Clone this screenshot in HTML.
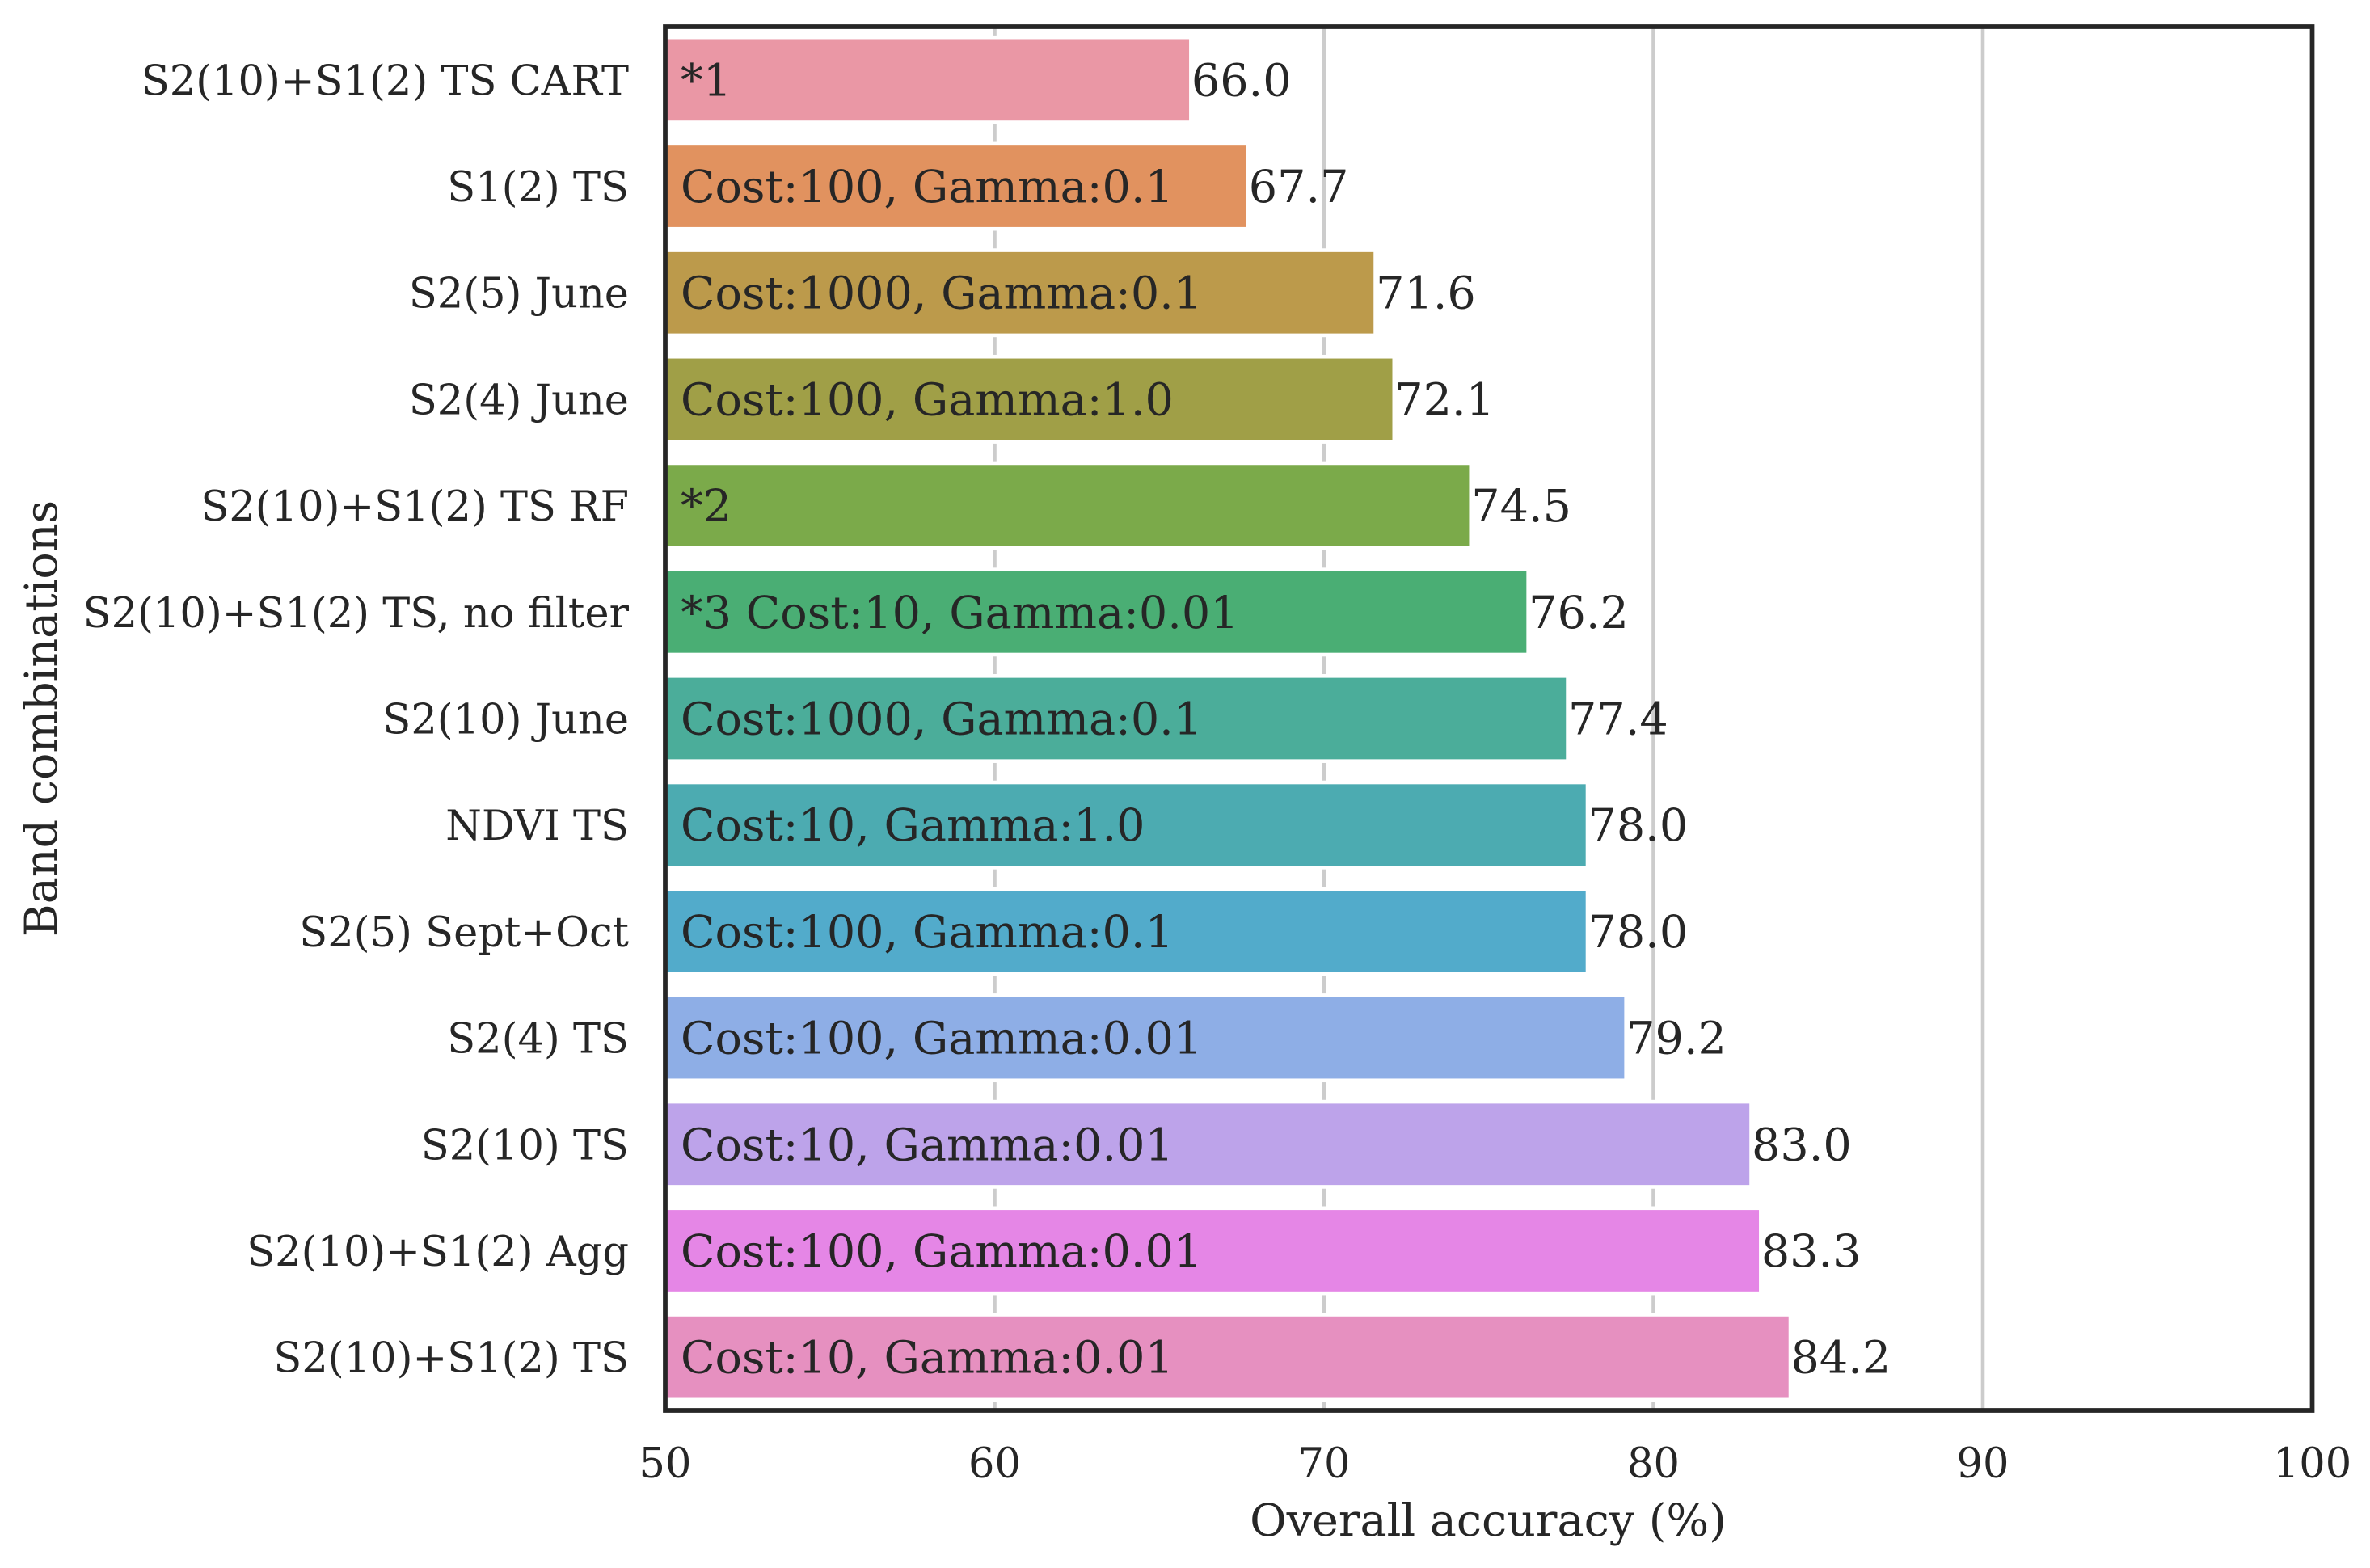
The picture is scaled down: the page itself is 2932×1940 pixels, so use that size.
<!DOCTYPE html>
<html lang="en">
<head>
<meta charset="utf-8">
<title>Overall accuracy by band combination</title>
<style>
html,body{margin:0;padding:0;background:#fff;}
svg{display:block;}
text{font-family:"DejaVu Serif","Liberation Serif",serif;fill:#262626;}
</style>
</head>
<body>
<svg id="chart" xmlns="http://www.w3.org/2000/svg" width="2932" height="1940" viewBox="0 0 2932 1940"></svg>
<script>
const categories = ["S2(10)+S1(2) TS CART","S1(2) TS","S2(5) June","S2(4) June","S2(10)+S1(2) TS RF","S2(10)+S1(2) TS, no filter","S2(10) June","NDVI TS","S2(5) Sept+Oct","S2(4) TS","S2(10) TS","S2(10)+S1(2) Agg","S2(10)+S1(2) TS"];
const accuracyValues = [65.96,67.7,71.56,72.13,74.46,76.2,77.4,78.0,78.0,79.17,82.97,83.26,84.16];
const barNotes = ["*1","Cost:100, Gamma:0.1","Cost:1000, Gamma:0.1","Cost:100, Gamma:1.0","*2","*3 Cost:10, Gamma:0.01","Cost:1000, Gamma:0.1","Cost:10, Gamma:1.0","Cost:100, Gamma:0.1","Cost:100, Gamma:0.01","Cost:10, Gamma:0.01","Cost:100, Gamma:0.01","Cost:10, Gamma:0.01"];
const barColors = ["#ea97a5","#e1925f","#bc9a4b","#a09f47","#7baa4a","#4aae74","#4bad9a","#4cabb1","#52abcb","#8eaee6","#bda3ea","#e586e6","#e690c0"];
const xTicks = [50,60,70,80,90,100];

const NS = "http://www.w3.org/2000/svg";
const svg = document.getElementById("chart");
const plotLeft = 823, plotRight = 2860.5, plotTop = 33, plotBottom = 1745;
const xMin = 50, xMax = 100;
const bandStep = (plotBottom - plotTop) / categories.length;
const barThickness = bandStep * 0.8;
function xScale(v) { return plotLeft + (v - xMin) / (xMax - xMin) * (plotRight - plotLeft); }
function yCenter(i) { return plotTop + bandStep * (i + 0.5); }
function make(tag, attrs, text) {
  const el = document.createElementNS(NS, tag);
  for (const k in attrs) el.setAttribute(k, attrs[k]);
  if (text !== undefined) el.textContent = text;
  return el;
}

xTicks.forEach(function (t) {
  const grid = make("line", {x1: xScale(t), x2: xScale(t), y1: plotTop, y2: plotBottom, stroke: "#cccccc", "stroke-width": 4.6});
  
  
  svg.appendChild(grid);
});

categories.forEach(function (c, i) {
  const bar = make("rect", {x: xScale(xMin), y: yCenter(i) - barThickness / 2, width: xScale(accuracyValues[i]) - xScale(xMin), height: barThickness, fill: barColors[i], stroke: "#ffffff", "stroke-width": 4.6});
  
  
  svg.appendChild(bar);

  const note = make("text", {x: 842, y: yCenter(i) + 19.5, "font-size": 55.55}, barNotes[i]);
  
  
  svg.appendChild(note);

  const val = make("text", {x: xScale(accuracyValues[i]) + 0.5, y: yCenter(i) + 19.5, "font-size": 55.55}, accuracyValues[i].toFixed(1));
  
  
  svg.appendChild(val);

  const lab = make("text", {x: 778, y: yCenter(i) + 18.5, "font-size": 51, "text-anchor": "end"}, c);
  
  
  svg.appendChild(lab);
});

const frame = make("rect", {x: plotLeft, y: plotTop, width: plotRight - plotLeft, height: plotBottom - plotTop, fill: "none", stroke: "#262626", "stroke-width": 5.75});


svg.appendChild(frame);

xTicks.forEach(function (t) {
  const tick = make("text", {x: xScale(t), y: 1828, "font-size": 51, "text-anchor": "middle"}, String(t));
  
  
  svg.appendChild(tick);
});

const xTitle = make("text", {x: 1841, y: 1900, "font-size": 55.55, "text-anchor": "middle"}, "Overall accuracy (%)");


svg.appendChild(xTitle);

const yTitle = make("text", {transform: "translate(70 889) rotate(-90)", "font-size": 55.55, "text-anchor": "middle"}, "Band combinations");


svg.appendChild(yTitle);
</script>
</body>
</html>
